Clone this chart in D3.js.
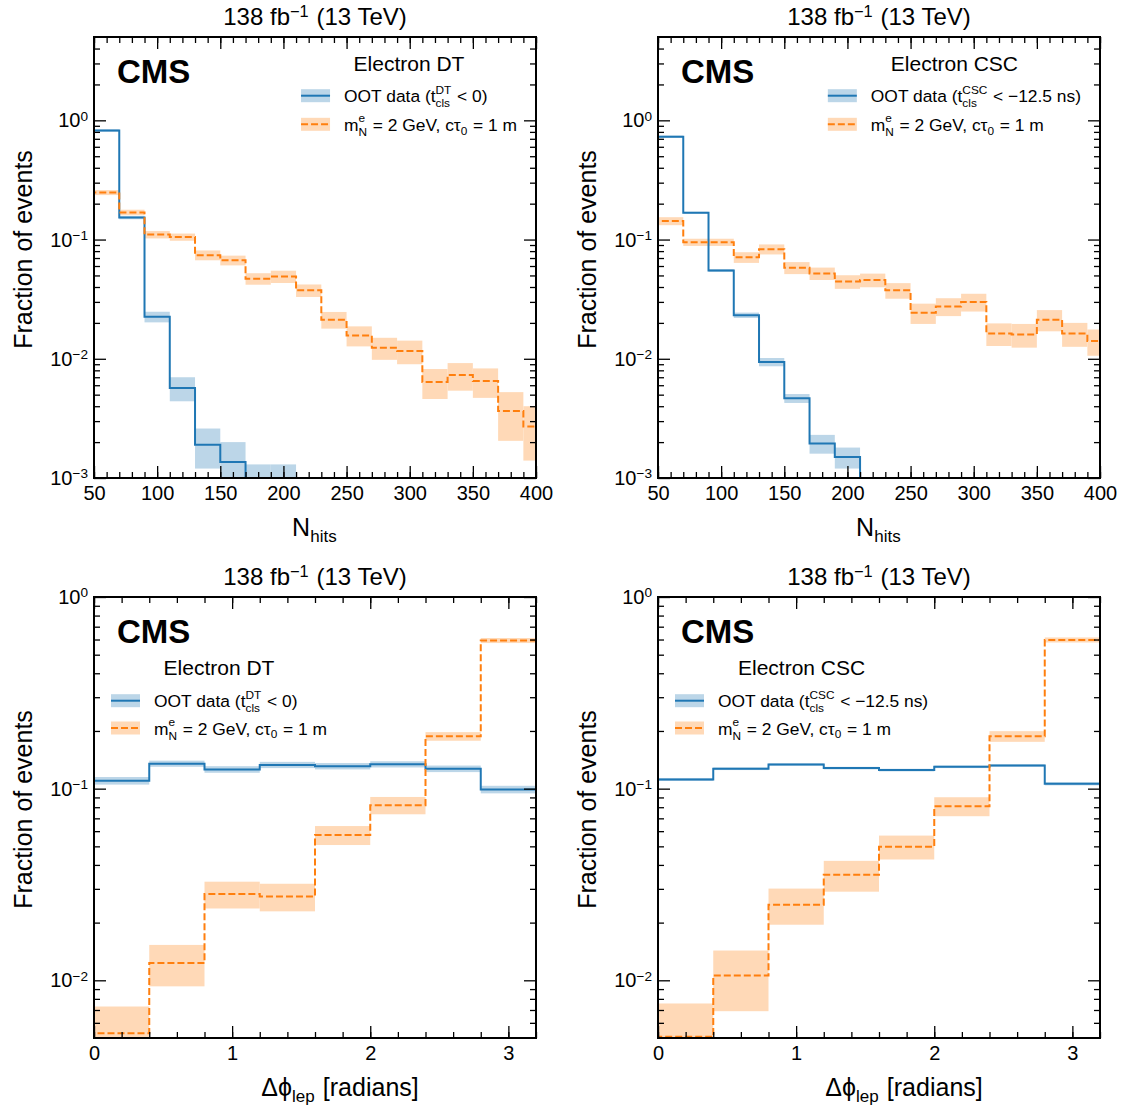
<!DOCTYPE html>
<html>
<head>
<meta charset="utf-8">
<script src="https://cdn.jsdelivr.net/npm/d3@7"></script>
<style>
  body { margin: 0; background: #fff; }
  svg text { font-family: "Liberation Sans", Arial, Helvetica, sans-serif; fill: #000; white-space: pre; }
</style>
</head>
<body>
<svg id="chart" width="1122" height="1110"></svg>
<script>
// bin edges
const nhitsEdges = [50, 70, 90, 110, 130, 150, 170, 190, 210, 230, 250, 270, 290, 310, 330, 350, 370, 390, 410];
const dphiEdges  = [0, 0.4, 0.8, 1.2, 1.6, 2.0, 2.4, 2.8, 3.2];

// tick labels
const nhitsTicks = [50, 100, 150, 200, 250, 300, 350, 400];
const dphiTicks  = [0, 1, 2, 3];
const nhitsYTicks = [1e-3, 1e-2, 1e-1, 1];
const dphiYTicks  = [1e-2, 1e-1, 1];

// Electron DT, N_hits
const dtHitsOot    = [0.82, 0.153, 0.0225, 0.0057, 0.0019, 0.00136, 0.0006, 0.0006];
const dtHitsOotErr = [0.02, 0.005, 0.0023, 0.0013, 0.0007, 0.00064, 0.0007, 0.0007];
const dtHitsSig    = [0.248, 0.169, 0.110, 0.105, 0.074, 0.067, 0.047, 0.049, 0.0375, 0.0213, 0.0157, 0.0124, 0.0116, 0.0064, 0.0073, 0.0065, 0.00365, 0.0027];
const dtHitsSigErr = [0.012, 0.009, 0.0078, 0.0073, 0.007, 0.0063, 0.0052, 0.0058, 0.0045, 0.0034, 0.003, 0.0026, 0.0026, 0.0018, 0.0019, 0.0018, 0.0016, 0.0013];

// Electron CSC, N_hits
const cscHitsOot    = [0.73, 0.168, 0.055, 0.0232, 0.0094, 0.00466, 0.00195, 0.0015];
const cscHitsOotErr = [0.015, 0.003, 0.0015, 0.0012, 0.00075, 0.0004, 0.00035, 0.0003];
const cscHitsSig    = [0.143, 0.095, 0.095, 0.071, 0.083, 0.058, 0.052, 0.0444, 0.0458, 0.0375, 0.0243, 0.0275, 0.030, 0.0163, 0.0160, 0.0213, 0.0163, 0.0141];
const cscHitsSigErr = [0.011, 0.0066, 0.0066, 0.0073, 0.008, 0.0067, 0.0062, 0.0058, 0.006, 0.0056, 0.0047, 0.0047, 0.0051, 0.0035, 0.0036, 0.0043, 0.0037, 0.0035];

// Electron DT, delta phi
const dtDphiOot    = [0.110, 0.135, 0.126, 0.133, 0.131, 0.134, 0.127, 0.099];
const dtDphiOotErr = [0.005, 0.005, 0.005, 0.005, 0.005, 0.005, 0.005, 0.0045];
const dtDphiSig    = [0.0053, 0.0123, 0.0282, 0.0274, 0.0573, 0.082, 0.1875, 0.593];
const dtDphiSigErr = [0.002, 0.003, 0.0045, 0.0045, 0.0065, 0.0085, 0.0097, 0.018];

// Electron CSC, delta phi
const cscDphiOot    = [0.1117, 0.127, 0.1336, 0.128, 0.125, 0.130, 0.132, 0.106];
const cscDphiOotErr = [0.002, 0.002, 0.002, 0.002, 0.002, 0.002, 0.002, 0.002];
const cscDphiSig    = [0.00507, 0.0106, 0.0248, 0.0355, 0.0498, 0.081, 0.1875, 0.597];
const cscDphiSigErr = [0.0025, 0.0037, 0.0053, 0.0065, 0.0071, 0.0092, 0.012, 0.018];

const W = 442, H = 441;
const BLUE = '#1f77b4', BLUE_BAND = '#bcd6e8';
const ORANGE = '#ff7f0e', ORANGE_BAND = '#ffd9b7';

const svg = d3.select('#chart');

// lays out text runs with super/subscripts (stacked when both), returns the total width
function rich(sel, x, y, parts, size, anchor, weight) {
  const g = sel.append('g');
  let cx = 0;
  parts.forEach(p => {
    if (typeof p === 'string') {
      const t = g.append('text').attr('x', cx).attr('y', 0)
        .style('font-size', size + 'px').style('font-weight', weight || 'normal').text(p);
      cx += t.node().getComputedTextLength();
    } else {
      const s = size * 0.68;
      const both = p.sup && p.sub;
      let w = 0;
      if (p.sup) {
        const t = g.append('text').attr('x', cx).attr('y', -size * (both ? 0.48 : 0.34)).style('font-size', s + 'px').text(p.sup);
        w = Math.max(w, t.node().getComputedTextLength());
      }
      if (p.sub) {
        const t = g.append('text').attr('x', cx).attr('y', size * (both ? 0.3 : 0.22)).style('font-size', s + 'px').text(p.sub);
        w = Math.max(w, t.node().getComputedTextLength());
      }
      cx += w + size * 0.05;
    }
  });
  const off = anchor === 'middle' ? -cx / 2 : anchor === 'end' ? -cx : 0;
  g.attr('transform', `translate(${x + off},${y})`);
  return { g, width: cx };
}

const panels = [
  { id: 'a', left: 94, top: 37, edges: nhitsEdges, xDomain: [50, 400], yDomain: [1e-3, 5],
    xTicks: nhitsTicks, xMinor: d3.range(50, 401, 10), yTicks: nhitsYTicks,
    oot: dtHitsOot, ootErr: dtHitsOotErr, sig: dtHitsSig, sigErr: dtHitsSigErr,
    det: 'DT', cut: ' < 0)', legend: 'right', xLabel: ['N', { sub: 'hits' }], xLabelShift: 0 },
  { id: 'b', left: 658, top: 37, edges: nhitsEdges, xDomain: [50, 400], yDomain: [1e-3, 5],
    xTicks: nhitsTicks, xMinor: d3.range(50, 401, 10), yTicks: nhitsYTicks,
    oot: cscHitsOot, ootErr: cscHitsOotErr, sig: cscHitsSig, sigErr: cscHitsSigErr,
    det: 'CSC', cut: ' < \u221212.5 ns)', legend: 'right', xLabel: ['N', { sub: 'hits' }], xLabelShift: 0 },
  { id: 'c', left: 94, top: 597, edges: dphiEdges, xDomain: [0, 3.2], yDomain: [5e-3, 1],
    xTicks: dphiTicks, xMinor: d3.range(0, 3.21, 0.2), yTicks: dphiYTicks,
    oot: dtDphiOot, ootErr: dtDphiOotErr, sig: dtDphiSig, sigErr: dtDphiSigErr,
    det: 'DT', cut: ' < 0)', legend: 'left', xLabel: ['\u0394\u03d5', { sub: 'lep' }, ' [radians]'], xLabelShift: 25 },
  { id: 'd', left: 658, top: 597, edges: dphiEdges, xDomain: [0, 3.2], yDomain: [5e-3, 1],
    xTicks: dphiTicks, xMinor: d3.range(0, 3.21, 0.2), yTicks: dphiYTicks,
    oot: cscDphiOot, ootErr: cscDphiOotErr, sig: cscDphiSig, sigErr: cscDphiSigErr,
    det: 'CSC', cut: ' < \u221212.5 ns)', legend: 'left', xLabel: ['\u0394\u03d5', { sub: 'lep' }, ' [radians]'], xLabelShift: 25 }
];

function logMinor(domain) {
  const out = [];
  for (let k = -4; k <= 1; k++) {
    for (let m = 2; m <= 9; m++) {
      const v = m * Math.pow(10, k);
      if (v > domain[0] && v < domain[1]) out.push(v);
    }
  }
  return out;
}

function drawPanel(p) {
  const g = svg.append('g').attr('transform', `translate(${p.left},${p.top})`);
  const x = d3.scaleLinear().domain(p.xDomain).range([0, W]);
  const y = d3.scaleLog().domain(p.yDomain).range([H, 0]);
  const low = p.yDomain[0] / 10;
  const yc = v => y(Math.max(v, low));

  g.append('clipPath').attr('id', 'clip' + p.id)
    .append('rect').attr('width', W).attr('height', H);
  const plot = g.append('g').attr('clip-path', `url(#clip${p.id})`);

  const series = [
    { v: p.oot, e: p.ootErr, line: BLUE, band: BLUE_BAND, dash: null },
    { v: p.sig, e: p.sigErr, line: ORANGE, band: ORANGE_BAND, dash: '7,3' }
  ];

  series.forEach(s => {
    plot.append('g').selectAll('rect').data(s.v).join('rect')
      .attr('x', (d, i) => x(p.edges[i]))
      .attr('width', (d, i) => x(p.edges[i + 1]) - x(p.edges[i]))
      .attr('y', (d, i) => yc(d + s.e[i]))
      .attr('height', (d, i) => yc(d - s.e[i]) - yc(d + s.e[i]))
      .attr('fill', s.band);
  });

  series.forEach(s => {
    const n = s.v.length;
    const pts = [[p.edges[0], low]];
    s.v.forEach((d, i) => pts.push([p.edges[i], d]));
    pts.push([p.edges[n], s.v[n - 1]]);
    pts.push([p.edges[n], low]);
    const line = d3.line().curve(d3.curveStepAfter).x(d => x(d[0])).y(d => yc(d[1]));
    plot.append('path').attr('d', line(pts))
      .attr('fill', 'none').attr('stroke', s.line).attr('stroke-width', 2)
      .attr('stroke-dasharray', s.dash);
  });

  // axes: ticks inward on all four sides
  const axes = [
    [d3.axisBottom(x).tickValues(p.xTicks).tickSize(-12).tickPadding(8).tickFormat(d3.format('d')), `translate(0,${H})`],
    [d3.axisBottom(x).tickValues(p.xMinor).tickSize(-6).tickFormat(''), `translate(0,${H})`],
    [d3.axisTop(x).tickValues(p.xTicks).tickSize(-12).tickFormat(''), null],
    [d3.axisTop(x).tickValues(p.xMinor).tickSize(-6).tickFormat(''), null],
    [d3.axisLeft(y).tickValues(p.yTicks).tickSize(-12).tickFormat(''), null],
    [d3.axisLeft(y).tickValues(logMinor(p.yDomain)).tickSize(-6).tickFormat(''), null],
    [d3.axisRight(y).tickValues(p.yTicks).tickSize(-12).tickFormat(''), `translate(${W},0)`],
    [d3.axisRight(y).tickValues(logMinor(p.yDomain)).tickSize(-6).tickFormat(''), `translate(${W},0)`]
  ];
  axes.forEach(([ax, tr]) => {
    const a = g.append('g').attr('transform', tr).call(ax);
    a.select('.domain').remove();
    a.selectAll('line').attr('stroke', '#000').attr('stroke-width', 1.3);
    a.selectAll('text').attr('font-family', null).style('font-size', '20px');
  });

  p.yTicks.forEach(v => {
    rich(g, -5, y(v) + 7, ['10', { sup: String(Math.round(Math.log10(v))).replace('-', '\u2212') }], 20, 'end');
  });

  g.append('rect').attr('width', W).attr('height', H)
    .attr('fill', 'none').attr('stroke', '#000').attr('stroke-width', 2);

  // labels
  rich(g, W / 2, -12, ['138 fb', { sup: '\u22121' }, ' (13 TeV)'], 24, 'middle');
  rich(g, W / 2 + p.xLabelShift, H + 58, p.xLabel, 25, 'middle');
  g.append('text').attr('transform', `translate(-62,${H / 2 - 8}) rotate(-90)`)
    .attr('text-anchor', 'middle').style('font-size', '25px').text('Fraction of events');
  rich(g, 23, 46, ['CMS'], 33, 'start', 'bold');

  // legend
  const entries = [
    { parts: ['OOT data (t', { sup: p.det, sub: 'cls' }, p.cut], line: BLUE, band: BLUE_BAND, dash: null },
    { parts: ['m', { sup: 'e', sub: 'N' }, ' = 2 GeV, c\u03c4', { sub: '0' }, ' = 1 m'], line: ORANGE, band: ORANGE_BAND, dash: '7,3' }
  ];
  const leg = g.append('g');
  const texts = entries.map(e => rich(leg, 0, 0, e.parts, 17.4, 'start'));
  const maxW = d3.max(texts, t => t.width);
  const totalW = 43 + maxW;
  const lx = p.legend === 'right' ? W - 19 - totalW : 17;
  const titleY = p.legend === 'right' ? 34 : 78;
  const rowY = p.legend === 'right' ? [58.7, 87.3] : [103.7, 131];
  rich(g, lx + totalW / 2, titleY, ['Electron ' + p.det], 21, 'middle');
  entries.forEach((e, i) => {
    leg.append('rect').attr('x', lx).attr('y', rowY[i] - 6.5).attr('width', 29).attr('height', 13).attr('fill', e.band);
    leg.append('line').attr('x1', lx).attr('x2', lx + 29).attr('y1', rowY[i]).attr('y2', rowY[i])
      .attr('stroke', e.line).attr('stroke-width', 2).attr('stroke-dasharray', e.dash);
    texts[i].g.attr('transform', `translate(${lx + 43},${rowY[i] + 6.5})`);
  });
}

panels.forEach(drawPanel);
</script>
</body>
</html>
